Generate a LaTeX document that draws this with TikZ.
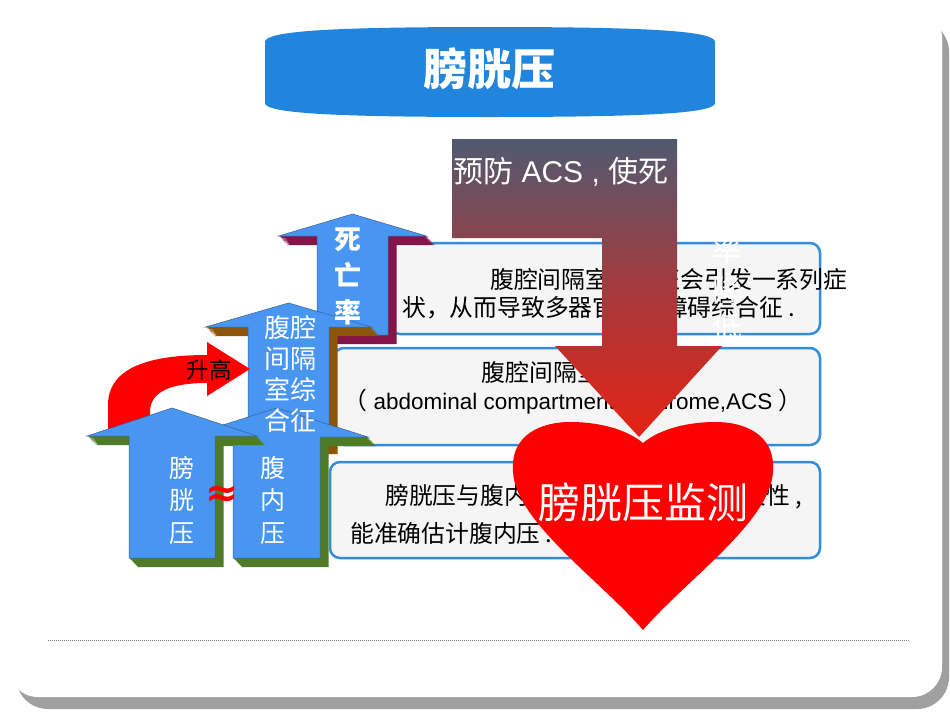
\documentclass[tikz,border=0pt]{standalone}
\usepackage{fontspec}
\setmainfont{Liberation Sans}
\newfontfamily\cjk{Noto Sans CJK SC}
\newfontfamily\lat{Liberation Sans}
\newfontfamily\dv{DejaVu Sans}
\definecolor{titleblue}{RGB}{33,133,222}
\definecolor{arrblue}{RGB}{72,150,242}
\definecolor{arredge}{RGB}{60,95,150}
\definecolor{arrgreen}{RGB}{79,122,40}
\definecolor{arrbrown}{RGB}{140,86,10}
\definecolor{arrmaroon}{RGB}{134,20,72}
\definecolor{boxborder}{RGB}{52,140,220}
\definecolor{boxfill}{RGB}{245,245,245}
\definecolor{gtop}{RGB}{80,90,112}
\definecolor{gmid}{RGB}{165,58,62}
\definecolor{gbot}{RGB}{228,34,20}
\definecolor{shadowgray}{RGB}{160,160,160}
\definecolor{heartred}{RGB}{255,0,0}
\tikzset{
  infobox/.style={draw=boxborder, fill=boxfill, line width=2.5pt, rounded corners=10pt},
  boxtxt/.style={font={\cjk\fontsize{23.8}{28}\selectfont}, text=black, inner sep=0pt, anchor=west},
  arrtxt/.style={font={\cjk\fontsize{25}{32.5}\selectfont}, text=white, inner sep=0pt, align=center},
  whitev/.style={font={\cjk\fontsize{30}{36}\selectfont}, text=white, inner sep=0pt},
}
% up arrow: cx, tip, wing, half head, half shaft, bottom, side colour
\newcommand{\uparr}[7]{%
  \foreach \k in {1,...,10}{%
    \begin{scope}[shift={(0.85*\k,0.9*\k)}]
      \fill[#7] (#1,#2) -- ({#1+#4},#3) -- ({#1+#5},#3) -- ({#1+#5},#6) -- ({#1-#5},#6) -- ({#1-#5},#3) -- ({#1-#4},#3) -- cycle;
    \end{scope}}
  \filldraw[fill=arrblue, draw=arredge, line width=0.5pt] (#1,#2) -- ({#1+#4},#3) -- ({#1+#5},#3) -- ({#1+#5},#6) -- ({#1-#5},#6) -- ({#1-#5},#3) -- ({#1-#4},#3) -- cycle;
}
\begin{document}
\begin{tikzpicture}[x=1pt,y=-1pt]
\useasboundingbox (0,0) rectangle (950,713);
\fill[white] (0,0) rectangle (950,713);
% slide card
\fill[shadowgray, rounded corners=32pt] (16,20) rectangle (949,709);
\fill[white, rounded corners=30pt] (8,8) rectangle (942,697);
% title banner
\fill[titleblue] (265,42) .. controls (265,31) and (330,27) .. (490,27) .. controls (650,27) and (715,31) .. (715,42) -- (715,103) .. controls (715,113) and (650,117) .. (490,117) .. controls (330,117) and (265,113) .. (265,103) -- cycle;
\node[font={\cjk\bfseries\fontsize{44}{50}\selectfont}, text=white, inner sep=0pt] (title) at (489,69) {膀胱压};
% info boxes
\draw[infobox] (390,243) rectangle (820,334);
\draw[infobox] (334,348) rectangle (820,445);
\draw[infobox] (330,462) rectangle (820,558);
\node[boxtxt] (b1a) at (490,279) {腹腔间隔室综合征会引发一系列症};
\node[boxtxt] (b1b) at (402,308) {状，从而导致多器官功能障碍综合征 .};
\node[boxtxt, anchor=center] (b2a) at (577,372) {腹腔间隔室综合征};
\node[font={\lat\fontsize{22.5}{28}\selectfont}, inner sep=0pt] (b2b) at (573,402) {{\cjk\fontsize{23.8}{28}\selectfont （}\ abdominal compartment syndrome,ACS\ {\cjk\fontsize{23.8}{28}\selectfont ）}};
\node[boxtxt] (b3a) at (385,497) {膀胱压与腹内压有着良好的线性相关性 ,};
\node[boxtxt] (b3b) at (350,533) {能准确估计腹内压 .};
% left stacked arrows
\uparr{352.5}{214}{236}{74}{35.5}{335}{arrmaroon}
\uparr{288.5}{303}{327}{83}{40.5}{445}{arrbrown}
% red curved arrow
\fill[red] (108,432) -- (108,405) .. controls (108,372) and (140,355) .. (207,355) -- (207,342) -- (250,369) -- (207,396) -- (207,383) .. controls (170,383) and (150,392) .. (150,412) -- (150,432) -- cycle;
\uparr{276.5}{408}{437}{91.5}{43.5}{558}{arrgreen}
\uparr{172}{408}{436}{85}{43}{558}{arrgreen}
% arrow labels
\node[arrtxt, font={\cjk\bfseries\fontsize{27}{36.5}\selectfont}] (mort) at (348,276) {死\\亡\\率};
\node[arrtxt, font={\cjk\fontsize{26}{31}\selectfont}] (acs) at (290,374) {腹腔\\间隔\\室综\\合征};
\node[arrtxt] (bp) at (182,500) {膀\\胱\\压};
\node[arrtxt] (iap) at (273,500) {腹\\内\\压};
\node[font={\dv\bfseries\fontsize{40}{44}\selectfont}, text=red, inner sep=0pt] (approx) at (222,496) {≈};
\node[font={\cjk\fontsize{22.5}{28}\selectfont}, text=black, inner sep=0pt] (rise) at (209,370) {升高};
% big gradient down arrow
\path[top color=gtop, bottom color=gbot, middle color=gmid] (452,139) -- (677,139) -- (677,346) -- (722,346) -- (639,437) -- (555,346) -- (602,346) -- (602,238) -- (452,238) -- cycle;
\node[inner sep=0pt, anchor=west, text=white] (prev) at (453,172) {{\cjk\fontsize{30}{36}\selectfont 预防}{\lat\fontsize{30}{36}\selectfont\ ACS , }{\cjk\fontsize{30}{36}\selectfont 使死}};
\node[whitev] (v1) at (727,211) {亡};
\node[whitev] (v2) at (727,250) {率};
\node[whitev] (v3) at (727,289) {降};
\node[whitev] (v4) at (727,327) {低};
% heart
\fill[heartred] (643,630) .. controls (600,580) and (516,522) .. (513,472) .. controls (510,432) and (545,422) .. (570,422) .. controls (605,422) and (630,432) .. (643,443) .. controls (656,432) and (681,422) .. (716,422) .. controls (741,422) and (776,432) .. (773,472) .. controls (770,522) and (686,580) .. (643,630) -- cycle;
\node[font={\cjk\fontsize{42}{48}\selectfont}, text=white, inner sep=0pt] (monitor) at (643,502) {膀胱压监测};
% dotted rule
\coordinate (dl) at (48,640);
\coordinate (dr) at (909,640);
\draw[gray, line width=0.6pt, dash pattern=on 1pt off 1pt] (dl) -- (dr);
\end{tikzpicture}
\end{document}
